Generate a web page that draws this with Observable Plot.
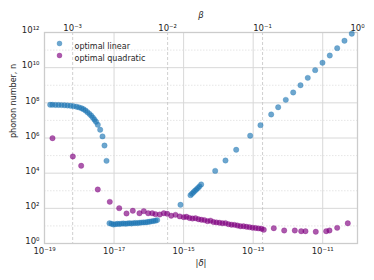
<!DOCTYPE html>
<html>
<head>
<meta charset="utf-8">
<script src="https://cdn.jsdelivr.net/npm/d3@7"></script>
<script src="https://cdn.jsdelivr.net/npm/@observablehq/plot@0.6"></script>
<style>
  html, body { margin: 0; padding: 0; background: #fff; }
  svg { display: block; }
</style>
</head>
<body>
<div id="chart"></div>
<script>
// log10(|delta|) and log10(n) for the "optimal linear" series
const linearLogDelta = [
  -18.836, -18.77, -18.684, -18.597, -18.511, -18.425, -18.339, -18.252, -18.166, -18.08,
  -18.008, -17.936, -17.879, -17.821, -17.764, -17.706, -17.654, -17.606, -17.562, -17.519,
  -17.468, -17.399, -17.332, -17.275, -17.217,
  -17.131, -17.074, -17.016, -16.959, -16.901, -16.844, -16.786, -16.729, -16.671, -16.614,
  -16.556, -16.499, -16.441, -16.384, -16.326, -16.269, -16.211, -16.154, -16.096, -16.039,
  -15.981, -15.924, -15.866, -15.809, -15.76,
  -15.09, -14.802, -14.759, -14.716, -14.673, -14.63, -14.587, -14.543, -14.495,
  -14.092, -13.796, -13.488, -13.086, -12.79, -12.482, -12.281, -12.062, -11.849, -11.639,
  -11.43, -11.217, -11.007, -10.797, -10.584, -10.374, -10.164
];
const linearLogN = [
  7.89, 7.89, 7.88, 7.88, 7.87, 7.86, 7.85, 7.83, 7.81, 7.78,
  7.74, 7.69, 7.64, 7.56, 7.47, 7.37, 7.27, 7.15, 7.04, 6.92,
  6.75, 6.47, 6.09, 5.57, 4.70,
  1.15, 1.12, 1.08, 1.10, 1.12, 1.11, 1.13, 1.14, 1.12, 1.14,
  1.15, 1.14, 1.16, 1.17, 1.16, 1.18, 1.19, 1.20, 1.20, 1.22,
  1.24, 1.26, 1.28, 1.30, 1.33,
  2.20, 2.75, 2.83, 2.92, 3.00, 3.08, 3.16, 3.25, 3.36,
  4.13, 4.72, 5.33, 6.13, 6.73, 7.34, 7.75, 8.17, 8.59, 9.00,
  9.42, 9.86, 10.28, 10.69, 11.11, 11.53, 11.93
];
// log10(|delta|) and log10(n) for the "optimal quadratic" series
const quadLogDelta = [
  -18.77, -18.186, -17.945, -17.468, -17.123, -16.852, -16.642, -16.461, -16.269, -16.145,
  -16.018, -15.903, -15.809, -15.685, -15.57, -15.472, -15.357, -15.233, -15.11, -14.995,
  -14.917, -14.831, -14.745, -14.658, -14.572, -14.486, -14.4, -14.313, -14.227, -14.141,
  -14.055, -13.968, -13.882, -13.796, -13.71, -13.623, -13.537, -13.451, -13.365, -13.278,
  -13.192, -13.106, -13.02, -12.933, -12.847, -12.761, -12.695,
  -12.407, -12.108, -11.803, -11.619, -11.496, -11.2, -10.9, -10.806, -10.584, -10.279
];
const quadLogN = [
  5.99, 4.95, 4.42, 3.07, 2.37, 2.01, 1.71, 1.86, 1.72, 1.84,
  1.72, 1.72, 1.67, 1.65, 1.72, 1.69, 1.58, 1.63, 1.54, 1.50,
  1.52, 1.45, 1.42, 1.44, 1.38, 1.35, 1.33, 1.27, 1.30, 1.22,
  1.20, 1.18, 1.15, 1.16, 1.10, 1.07, 1.06, 1.02, 0.98, 0.98,
  0.95, 0.93, 0.90, 0.88, 0.86, 0.84, 0.78,
  0.87, 0.74, 0.74, 0.70, 0.70, 0.67, 0.70, 0.74, 0.89, 1.15
];
const seriesNames = ["optimal linear", "optimal quadratic"];
const seriesColors = ["#1f77b4", "#800080"];

const xTicks = [1e-19, 1e-17, 1e-15, 1e-13, 1e-11];
const yMajor = [1, 1e2, 1e4, 1e6, 1e8, 1e10, 1e12];
const yMinor = [1e1, 1e3, 1e5, 1e7, 1e9, 1e11];
const betaTicks = [1e-3, 1e-2, 1e-1, 1e0];
// top (beta) axis relation to |delta|: log|delta| = -10 + 2.73 log(beta)
const betaExp = 2.73, betaRef = -10;
const betaToDelta = b => Math.pow(10, betaRef + betaExp * Math.log10(b));

const supMap = {"-": "\u207B", "0": "\u2070", "1": "\u00B9", "2": "\u00B2", "3": "\u00B3",
  "4": "\u2074", "5": "\u2075", "6": "\u2076", "7": "\u2077", "8": "\u2078", "9": "\u2079"};
const pow10 = v => "10" + String(Math.round(Math.log10(v))).split("").map(c => supMap[c]).join("");

const data = [
  ...linearLogDelta.map((e, i) => ({delta: 10 ** e, n: 10 ** linearLogN[i], s: seriesNames[0]})),
  ...quadLogDelta.map((e, i) => ({delta: 10 ** e, n: 10 ** quadLogN[i], s: seriesNames[1]}))
];

const chart = Plot.plot({
  width: 374,
  height: 280,
  marginLeft: 44,
  marginRight: 17,
  marginTop: 32,
  marginBottom: 37,
  style: {fontFamily: "DejaVu Sans, sans-serif", fontSize: "8px", color: "#262626", background: "#fff"},
  x: {type: "log", domain: [1e-19, 1e-10], axis: null},
  y: {type: "log", domain: [1, 1e12], axis: null},
  color: {domain: seriesNames, range: seriesColors},
  marks: [
    Plot.ruleY(yMinor, {stroke: "#e0e0e0", strokeWidth: 0.8, strokeDasharray: "1.5,1.5"}),
    Plot.ruleY(yMajor, {stroke: "#d8d8d8", strokeWidth: 1}),
    Plot.ruleX(xTicks, {stroke: "#d8d8d8", strokeWidth: 1}),
    Plot.ruleX(betaTicks.map(betaToDelta), {stroke: "#c4c4c4", strokeWidth: 0.8, strokeDasharray: "3,2"}),
    Plot.frame({stroke: "#cccccc", strokeWidth: 1.3}),
    Plot.text(xTicks, {x: d => d, frameAnchor: "bottom", dy: 10, text: pow10, fontSize: 8.5}),
    Plot.text(betaTicks, {x: betaToDelta, frameAnchor: "top", dy: -8, text: pow10, fontSize: 8.5}),
    Plot.text(yMajor, {y: d => d, frameAnchor: "left", dx: -5, dy: -2, textAnchor: "end", text: pow10, fontSize: 8.5}),
    Plot.text(["|\u03B4|"], {frameAnchor: "bottom", dy: 22, fontStyle: "italic", fontSize: 8.5}),
    Plot.text(["\u03B2"], {frameAnchor: "top", dy: -21, fontStyle: "italic", fontSize: 8.5}),
    Plot.text(["phonon number, n"], {frameAnchor: "left", dx: -31, rotate: -90, fontSize: 8}),
    Plot.dot(data, {x: "delta", y: "n", fill: "s", r: 2.7, fillOpacity: 0.65, stroke: "s", strokeOpacity: 0.65, strokeWidth: 0.4}),
    Plot.dot([seriesNames[0]], {frameAnchor: "top-left", dx: 15, dy: 11, r: 2.7, fill: d => d, fillOpacity: 0.65}),
    Plot.dot([seriesNames[1]], {frameAnchor: "top-left", dx: 15, dy: 23, r: 2.7, fill: d => d, fillOpacity: 0.65}),
    Plot.text([seriesNames[0]], {frameAnchor: "top-left", dx: 30, dy: 11, text: d => d, textAnchor: "start", fontSize: 8}),
    Plot.text([seriesNames[1]], {frameAnchor: "top-left", dx: 30, dy: 23, text: d => d, textAnchor: "start", fontSize: 8})
  ]
});
document.getElementById("chart").appendChild(chart);
</script>
</body>
</html>
